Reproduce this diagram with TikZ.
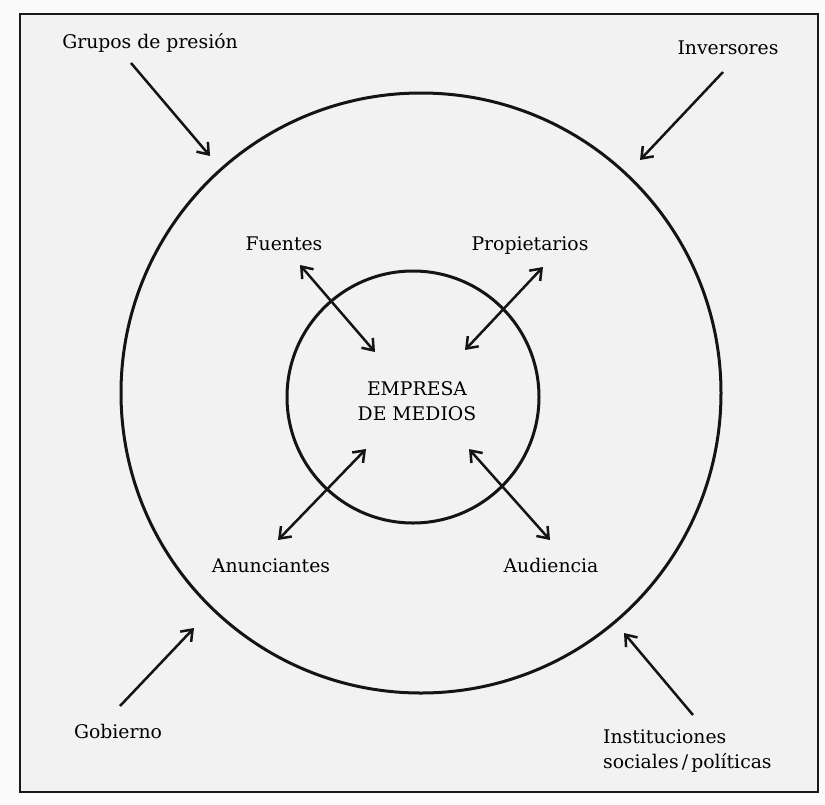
\documentclass[tikz,border=0pt]{standalone}
\usepackage{fontspec}
\setmainfont{DejaVu Serif}
\usetikzlibrary{arrows.meta}
\begin{document}
\begin{tikzpicture}[x=1pt,y=-1pt,
  lbl/.style={font=\fontsize{18.8}{25}\selectfont, inner sep=0pt, text=black},
  barbtip/.tip={Straight Barb[length=10pt,width=15pt,line width=2.5pt]},
  arr/.style={line width=2.5pt, black!92, -barbtip},
  darr/.style={line width=2.5pt, black!92, barbtip-barbtip},
  ring/.style={draw=black!92, circle, line width=3pt, inner sep=0pt}]
\fill[black!2] (0,0) rectangle (825,804);
\useasboundingbox (0,0) rectangle (825,804);
\draw[line width=2pt, black!90, fill=black!5] (20,14) rectangle (818,792);
% circles
\node[ring, minimum size=600pt] (outer) at (421,393) {};
\node[ring, minimum size=252pt] (inner) at (413,397) {};
\node[lbl, anchor=base, align=center] (empresa) at (417,420) {EMPRESA\\DE MEDIOS};
% outer labels
\node[lbl, anchor=base] (grupos) at (150,48) {Grupos de presión};
\node[lbl, anchor=base] (inversores) at (728,54) {Inversores};
\node[lbl, anchor=base] (gobierno) at (118,738) {Gobierno};
\node[lbl, anchor=base west, align=left] (instituciones) at (603,768) {Instituciones\\sociales\,/\,políticas};
% inner labels
\node[lbl, anchor=base] (fuentes) at (284,250) {Fuentes};
\node[lbl, anchor=base] (propietarios) at (530,250) {Propietarios};
\node[lbl, anchor=base] (anunciantes) at (271,572) {Anunciantes};
\node[lbl, anchor=base] (audiencia) at (551,572) {Audiencia};
% arrow end points
\coordinate (gs) at (131,63);  \coordinate (gt) at (210,156);
\coordinate (is) at (723,72);  \coordinate (it) at (640,160);
\coordinate (bs) at (120,706); \coordinate (bt) at (194,628);
\coordinate (ss) at (693,715); \coordinate (st) at (624,633);
\coordinate (fa) at (300,265); \coordinate (fb) at (375,352);
\coordinate (pa) at (543,267); \coordinate (pb) at (465,350);
\coordinate (aa) at (278,540); \coordinate (ab) at (366,449);
\coordinate (ua) at (550,540); \coordinate (ub) at (469,449);
% connectors
\draw[arr] (gs) -- (gt);
\draw[arr] (is) -- (it);
\draw[arr] (bs) -- (bt);
\draw[arr] (ss) -- (st);
\draw[darr] (fa) -- (fb);
\draw[darr] (pa) -- (pb);
\draw[darr] (aa) -- (ab);
\draw[darr] (ua) -- (ub);
\end{tikzpicture}
\end{document}
